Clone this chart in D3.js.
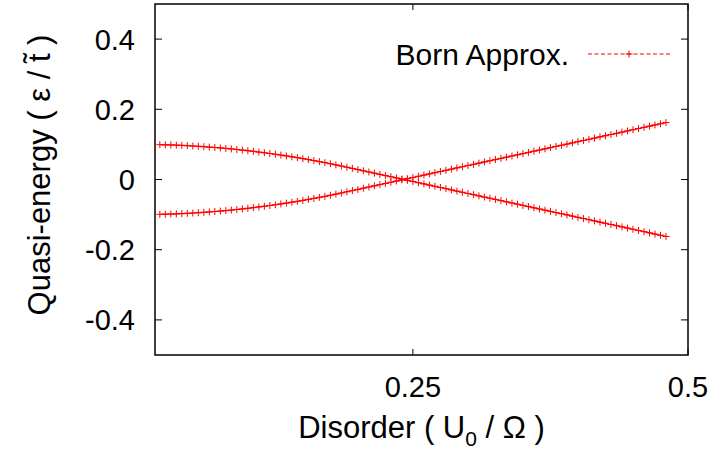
<!DOCTYPE html>
<meta charset="utf-8">
<style>

body {
  margin: 0;
  background: #fff;
  font-family: "Liberation Sans", Helvetica, Arial;
}

.frame {
  fill: none;
  stroke: #000;
  stroke-width: 1.5;
}

.tick {
  stroke: #000;
  stroke-width: 1;
}

.label {
  font-size: 29px;
  fill: #000;
}

.title {
  font-size: 31px;
  fill: #000;
}

.curve {
  fill: none;
  stroke: #ff0000;
  stroke-width: 1.2;
}

.mark {
  stroke: #ff0000;
  stroke-width: 1;
}

</style>
<svg width="712" height="453"></svg>
<script src="https://d3js.org/d3.v7.min.js"></script>
<script>

// disorder U0 / Omega
var disorder = [0.020, 0.025, 0.030, 0.035, 0.040, 0.045, 0.050, 0.055, 0.060, 0.065,
  0.070, 0.075, 0.080, 0.085, 0.090, 0.095, 0.100, 0.105, 0.110, 0.115,
  0.120, 0.125, 0.130, 0.135, 0.140, 0.145, 0.150, 0.155, 0.160, 0.165,
  0.170, 0.175, 0.180, 0.185, 0.190, 0.195, 0.200, 0.205, 0.210, 0.215,
  0.220, 0.225, 0.230, 0.235, 0.240, 0.245, 0.250, 0.255, 0.260, 0.265,
  0.270, 0.275, 0.280, 0.285, 0.290, 0.295, 0.300, 0.305, 0.310, 0.315,
  0.320, 0.325, 0.330, 0.335, 0.340, 0.345, 0.350, 0.355, 0.360, 0.365,
  0.370, 0.375, 0.380, 0.385, 0.390, 0.395, 0.400, 0.405, 0.410, 0.415,
  0.420, 0.425, 0.430, 0.435, 0.440, 0.445, 0.450, 0.455, 0.460, 0.465,
  0.470, 0.475, 0.480];

// branch starting at +0.1
var upperBranch = [0.0993, 0.0989, 0.0984, 0.0978, 0.0971, 0.0964, 0.0955, 0.0946, 0.0935, 0.0924,
  0.0912, 0.0899, 0.0885, 0.0870, 0.0854, 0.0838, 0.0820, 0.0802, 0.0782, 0.0762,
  0.0741, 0.0719, 0.0696, 0.0672, 0.0647, 0.0622, 0.0595, 0.0568, 0.0539, 0.0510,
  0.0480, 0.0449, 0.0417, 0.0384, 0.0350, 0.0316, 0.0282, 0.0248, 0.0214, 0.0180,
  0.0146, 0.0112, 0.0078, 0.0044, 0.0010, -0.0024, -0.0058, -0.0092, -0.0126, -0.0160,
  -0.0194, -0.0228, -0.0262, -0.0296, -0.0330, -0.0364, -0.0398, -0.0432, -0.0466, -0.0500,
  -0.0534, -0.0568, -0.0602, -0.0636, -0.0670, -0.0704, -0.0738, -0.0772, -0.0806, -0.0840,
  -0.0874, -0.0908, -0.0942, -0.0976, -0.1010, -0.1044, -0.1078, -0.1112, -0.1146, -0.1180,
  -0.1214, -0.1248, -0.1282, -0.1316, -0.1350, -0.1384, -0.1418, -0.1452, -0.1486, -0.1520,
  -0.1554, -0.1588, -0.1622];

// branch starting at -0.1
var lowerBranch = [-0.0993, -0.0989, -0.0984, -0.0978, -0.0971, -0.0964, -0.0955, -0.0946, -0.0935, -0.0924,
  -0.0912, -0.0899, -0.0885, -0.0870, -0.0854, -0.0838, -0.0820, -0.0802, -0.0782, -0.0762,
  -0.0741, -0.0719, -0.0696, -0.0672, -0.0647, -0.0622, -0.0595, -0.0568, -0.0539, -0.0510,
  -0.0480, -0.0449, -0.0417, -0.0384, -0.0350, -0.0316, -0.0282, -0.0248, -0.0214, -0.0180,
  -0.0146, -0.0112, -0.0078, -0.0044, -0.0010, 0.0024, 0.0058, 0.0092, 0.0126, 0.0160,
  0.0194, 0.0228, 0.0262, 0.0296, 0.0330, 0.0364, 0.0398, 0.0432, 0.0466, 0.0500,
  0.0534, 0.0568, 0.0602, 0.0636, 0.0670, 0.0704, 0.0738, 0.0772, 0.0806, 0.0840,
  0.0874, 0.0908, 0.0942, 0.0976, 0.1010, 0.1044, 0.1078, 0.1112, 0.1146, 0.1180,
  0.1214, 0.1248, 0.1282, 0.1316, 0.1350, 0.1384, 0.1418, 0.1452, 0.1486, 0.1520,
  0.1554, 0.1588, 0.1622];

var xTicks = [0.25, 0.5];
var xTickLabels = ["0.25", "0.5"];
var yTicks = [-0.4, -0.2, 0, 0.2, 0.4];
var yTickLabels = ["-0.4", "-0.2", "0", "0.2", "0.4"];
var legendLabel = "Born Approx.";

var svg = d3.select("svg"),
    margin = {top: 4, right: 24, bottom: 98, left: 155},
    width = +svg.attr("width") - margin.left - margin.right,
    height = +svg.attr("height") - margin.top - margin.bottom;

var x = d3.scaleLinear().domain([0.015625, 0.5]).range([0, width]);
var y = d3.scaleLinear().domain([-0.5, 0.5]).range([height, 0]);

var g = svg.append("g")
    .attr("transform", "translate(" + margin.left + "," + margin.top + ")");

// ticks, mirrored on both sides like gnuplot
yTicks.forEach(function(t) {
  g.append("line").attr("class", "tick")
      .attr("x1", 0).attr("x2", 7).attr("y1", y(t)).attr("y2", y(t));
  g.append("line").attr("class", "tick")
      .attr("x1", width).attr("x2", width - 7).attr("y1", y(t)).attr("y2", y(t));
});
xTicks.forEach(function(t) {
  g.append("line").attr("class", "tick")
      .attr("x1", x(t)).attr("x2", x(t)).attr("y1", height).attr("y2", height - 6);
  g.append("line").attr("class", "tick")
      .attr("x1", x(t)).attr("x2", x(t)).attr("y1", 0).attr("y2", 6);
});

g.selectAll(".ylab")
    .data(yTicks)
    .enter().append("text")
    .attr("class", "label")
    .attr("x", -20)
    .attr("y", function(d) { return y(d); })
    .attr("dy", "0.36em")
    .attr("text-anchor", "end")
    .text(function(d, i) { return yTickLabels[i]; });

g.selectAll(".xlab")
    .data(xTicks)
    .enter().append("text")
    .attr("class", "label")
    .attr("x", function(d) { return x(d); })
    .attr("y", height + 42)
    .attr("text-anchor", "middle")
    .text(function(d, i) { return xTickLabels[i]; });

// axis titles
var xt = svg.append("text")
    .attr("class", "title")
    .attr("x", margin.left + width / 2)
    .attr("y", 438)
    .attr("text-anchor", "middle");
xt.append("tspan").text("Disorder ( U");
xt.append("tspan").attr("dy", 8).style("font-size", "21px").text("0");
xt.append("tspan").attr("dy", -8).text(" / \u03a9 )");

svg.append("text")
    .attr("class", "title")
    .attr("transform", "translate(50,175) rotate(-90)")
    .attr("text-anchor", "middle")
    .text("Quasi-energy ( \u03b5 / t\u0303 )");

// curves
var series = [upperBranch, lowerBranch];
var line = d3.line()
    .x(function(d) { return x(d[0]); })
    .y(function(d) { return y(d[1]); });

function plus(sel, s) {
  sel.append("line").attr("class", "mark").attr("x1", -s).attr("x2", s).attr("y1", 0).attr("y2", 0);
  sel.append("line").attr("class", "mark").attr("x1", 0).attr("x2", 0).attr("y1", -s).attr("y2", s);
}

series.forEach(function(vals) {
  var pts = disorder.map(function(u, i) { return [u, vals[i]]; });
  g.append("path").attr("class", "curve").datum(pts).attr("d", line);
  var m = g.append("g").selectAll("g")
      .data(pts)
      .enter().append("g")
      .attr("transform", function(d) { return "translate(" + x(d[0]) + "," + y(d[1]) + ")"; });
  plus(m, 3.5);
});

// legend
var lg = svg.append("g");
lg.append("text")
    .attr("class", "label")
    .style("font-size", "30px")
    .attr("x", 569)
    .attr("y", 65)
    .attr("text-anchor", "end")
    .text(legendLabel);
lg.append("line")
    .attr("class", "curve")
    .attr("x1", 588).attr("x2", 670).attr("y1", 54).attr("y2", 54)
    .style("stroke-dasharray", "4,2.5");
plus(lg.append("g").attr("transform", "translate(629,54)"), 3.5);

// frame
g.append("rect").attr("class", "frame")
    .attr("width", width).attr("height", height);

</script>
